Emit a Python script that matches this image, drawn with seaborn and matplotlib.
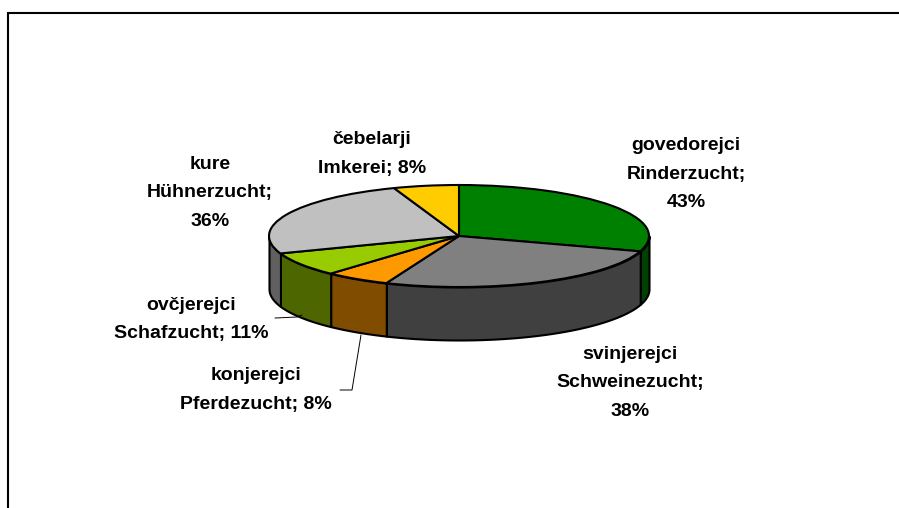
import numpy as np
import matplotlib
matplotlib.use("Agg")
import matplotlib.pyplot as plt
import seaborn as sns

labels = ["govedorejci\nRinderzucht;\n43%", "svinjerejci\nSchweinezucht;\n38%",
          "konjerejci\nPferdezucht; 8%", "ovčjerejci\nSchafzucht; 11%",
          "kure\nHühnerzucht;\n36%", "čebelarji\nImkerei; 8%"]
values = [43, 38, 8, 11, 36, 8]
top_colors = ["#008000", "#808080", "#ff9900", "#99cc00", "#c0c0c0", "#ffcc00"]
wall_colors = ["#004000", "#404040", "#804c00", "#4d6600", "#606060", "#806600"]
label_xy = [(686, 174), (630, 383), (256, 390), (191, 319.5), (210, 193), (372, 154)]

sns.set_theme(style="white")
plt.rcParams["font.family"] = ["Liberation Sans", "DejaVu Sans"]

W, H = 899, 508
CX, CY, RX, RY, DEPTH = 459, 236, 190, 51, 53

fig = plt.figure(figsize=(W / 100, H / 100), dpi=100, facecolor="white")
ax = fig.add_axes([0, 0, 1, 1])
lw = 1.5

# side walls of the front half, from the same values as the slices
shares = np.array(values) / sum(values) * 360
ends = 90 - np.cumsum(shares)
starts = ends + shares
for s, e, c in zip(starts, ends, wall_colors):
    hi, lo = s, e
    for shift in (0, 360):
        a0 = max(lo + shift, 180)
        a1 = min(hi + shift, 360)
        if a1 > a0:
            t = np.radians(np.linspace(a0, a1, 80))
            ax.fill_between(np.cos(t), np.sin(t), np.sin(t) - DEPTH / RY,
                            facecolor=c, edgecolor="black", linewidth=lw, zorder=1)

wedges, _ = ax.pie(values, colors=top_colors, startangle=90, counterclock=False,
                   wedgeprops=dict(edgecolor="black", linewidth=lw, zorder=2))
ax.set_aspect("auto")
ax.set_xlim((0 - CX) / RX, (W - CX) / RX)
ax.set_ylim((CY - H) / RY, CY / RY)
ax.axis("off")

ov = fig.add_axes([0, 0, 1, 1], facecolor="none")
ov.set_xlim(0, W)
ov.set_ylim(H, 0)
ov.axis("off")
for txt, (x, y) in zip(labels, label_xy):
    ov.text(x, y, txt, ha="center", va="center", fontsize=14, fontweight="bold",
            color="black", linespacing=1.88)
ov.plot([275, 297, 302], [318, 317, 315], color="black", lw=0.7)
ov.plot([340, 352, 361], [390, 390, 335], color="black", lw=0.7)
ov.plot([7.5, 7.5, W], [H, 12.5, 12.5], color="black", lw=1.5, solid_joinstyle="miter")

fig.savefig("out.png", dpi=100)
